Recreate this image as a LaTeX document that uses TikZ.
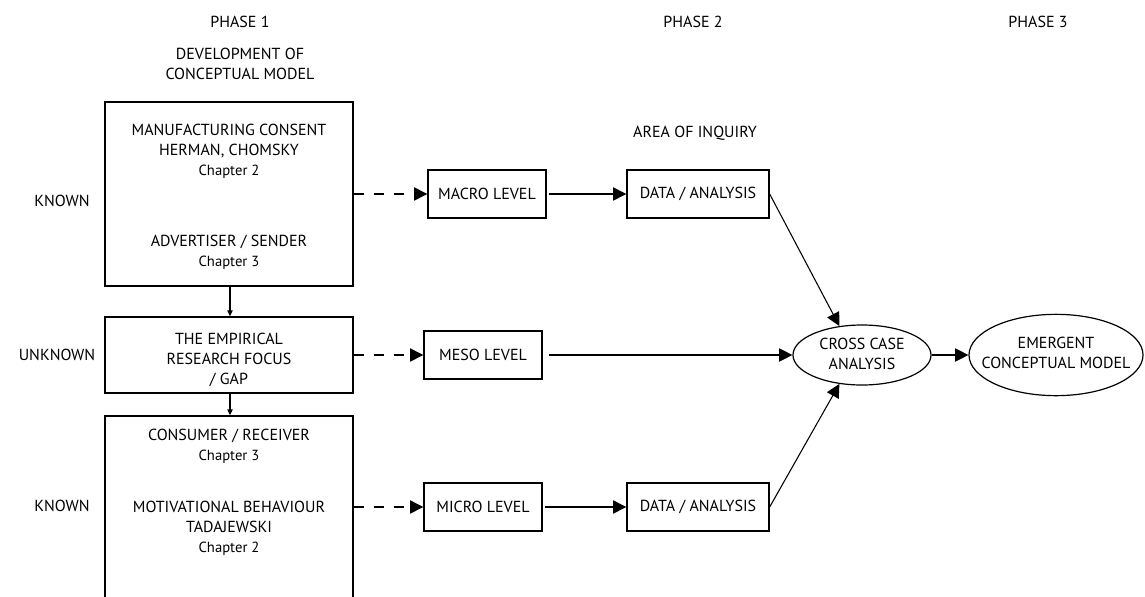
\documentclass[tikz,border=0pt]{standalone}
\usepackage{fontspec}
\setmainfont{PT Sans}
\usepackage{tikz}
\usetikzlibrary{arrows.meta,shapes.geometric}
\newcommand{\Chap}[1]{{\fontsize{11}{12}\selectfont Chapter #1}}

\begin{document}
\begin{tikzpicture}[x=0.75pt,y=-0.75pt,
  every node/.style={font=\fontsize{12}{15}\selectfont},
  txt/.style={align=center,inner sep=0pt},
  box/.style={draw,line width=1pt,inner sep=0pt,minimum width=186pt},
  lvl/.style={draw,line width=1pt,inner sep=0pt,minimum height=36pt},
  oval/.style={draw,ellipse,line width=0.9pt,inner sep=0pt},
  bigtip/.style={-{Triangle[length=10pt,width=10pt]},line width=0.8pt},
  smalltip/.style={-{Triangle[length=4.5pt,width=4pt]},line width=0.8pt},
  dashtip/.style={bigtip,dash pattern=on 7.5pt off 7.5pt}]
\useasboundingbox (0,0) rectangle (1145,596);

% column headers
\node[txt] (phaseA) at (240,22) {PHASE 1};
\node[txt] (phaseB) at (693,22) {PHASE 2};
\node[txt] (phaseC) at (1038,22) {PHASE 3};
\node[txt] (devel) at (240,64) {DEVELOPMENT OF\\CONCEPTUAL MODEL};
\node[txt] (inquiry) at (695,133) {AREA OF INQUIRY};

% row labels
\node[txt] (knownA) at (62,201) {KNOWN};
\node[txt] (unknown) at (57,355) {UNKNOWN};
\node[txt] (knownB) at (62,506) {KNOWN};

% phase 1 boxes
\node[box,minimum height=138pt] (sender) at (229,194) {};
\node[txt] (manuf) at (229,151) {MANUFACTURING CONSENT\\HERMAN, CHOMSKY\\\Chap{2}};
\node[txt] (advert) at (229,252) {ADVERTISER / SENDER\\\Chap{3}};
\node[box,minimum height=57pt] (gap) at (229,355) {};
\node[txt] (empir) at (229,360) {THE EMPIRICAL\\RESEARCH FOCUS\\/ GAP};
\node[box,minimum height=138pt] (receiver) at (229,508) {};
\node[txt] (consum) at (229,446) {CONSUMER / RECEIVER\\\Chap{3}};
\node[txt] (motiv) at (229,528) {MOTIVATIONAL BEHAVIOUR\\TADAJEWSKI\\\Chap{2}};

% phase 2 boxes
\node[lvl,minimum width=88.5pt] (macro) at (487,194) {MACRO LEVEL};
\node[lvl,minimum width=88.5pt] (meso) at (483,355) {MESO LEVEL};
\node[lvl,minimum width=88.5pt] (micro) at (483,507) {MICRO LEVEL};
\node[lvl,minimum width=106.5pt] (dataA) at (698,194) {DATA / ANALYSIS};
\node[lvl,minimum width=106.5pt] (dataB) at (698,507) {DATA / ANALYSIS};

% phase 3 (ellipse outlines, text on top)
\node[oval,minimum width=103.5pt,minimum height=45pt] (cross) at (862,355) {};
\node[txt] (crossT) at (862,354) {CROSS CASE\\ANALYSIS};
\node[oval,minimum width=130.5pt,minimum height=61pt] (emerg) at (1056,355) {};
\node[txt] (emergT) at (1056,353) {EMERGENT\\CONCEPTUAL MODEL};

% connectors
\draw[smalltip] (sender.south -| 230,0) -- (gap.north -| 230,0);
\draw[smalltip] (gap.south -| 230,0) -- (receiver.north -| 230,0);
\draw[dashtip] (sender.east |- macro) -- (macro.west);
\draw[dashtip] (gap.east |- meso) -- (meso.west);
\draw[dashtip] (receiver.east |- micro) -- (micro.west);
\draw[bigtip] (macro.east) ++(2,0) -- (dataA.west);
\draw[bigtip] (micro.east) ++(2,0) -- (dataB.west);
\draw[bigtip] (meso.east) ++(6,0) -- (cross.west);
\draw[bigtip] (dataA.east) -- (cross.128);
\draw[bigtip] (dataB.east) -- (cross.232);
\draw[bigtip] (cross.east) -- (emerg.west);
\end{tikzpicture}
\end{document}
